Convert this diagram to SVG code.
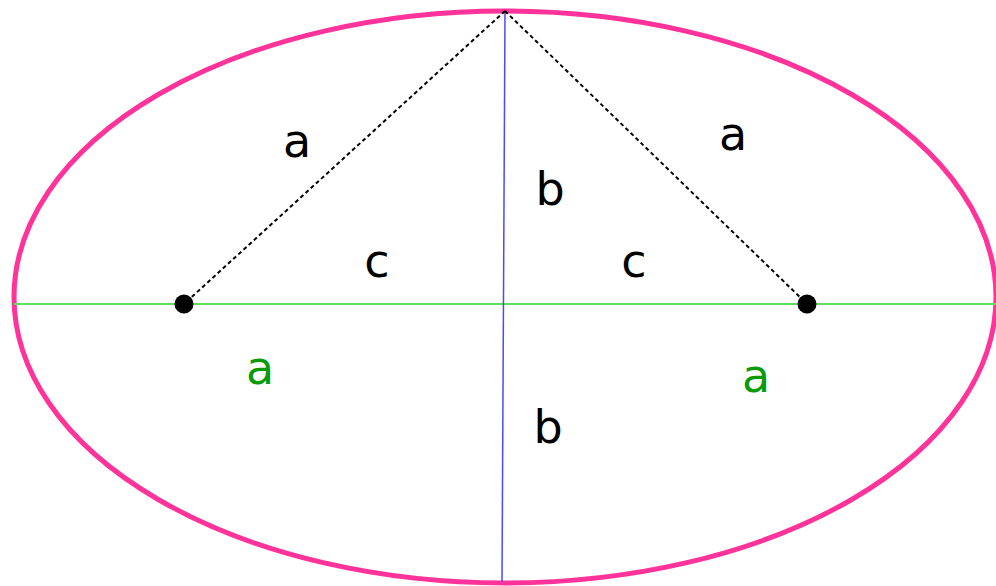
<svg xmlns="http://www.w3.org/2000/svg" width="996" height="586" viewBox="0 0 996 586">
<style>
.lbl{font-family:"DejaVu Sans","Liberation Sans",sans-serif;font-size:46px;text-anchor:middle;fill:#000}
.grn{fill:#0a9a0a}
.dash{stroke:#000;stroke-width:2;stroke-dasharray:4 3;fill:none}
</style>
<rect width="996" height="586" fill="#fff"/>
<g id="ellipse">
<ellipse cx="505" cy="297" rx="491" ry="286" fill="none" stroke="#ff3399" stroke-width="5"/>
</g>
<g id="connectors">
<line x1="14" y1="304" x2="996" y2="304" stroke="#5fdf5f" stroke-width="2"/>
<line x1="505" y1="11" x2="502" y2="582" stroke="#4a4aff" stroke-width="1.5"/>
<line class="dash" x1="505" y1="11" x2="184" y2="304"/>
<line class="dash" x1="505" y1="11" x2="807" y2="304"/>
</g>
<g id="focus-left"><circle cx="184" cy="304" r="9.5" fill="#000"/></g>
<g id="focus-right"><circle cx="807" cy="304" r="9.5" fill="#000"/></g>
<g id="labels">
<text class="lbl" x="297" y="157">a</text>
<text class="lbl" x="733" y="150">a</text>
<text class="lbl" x="550" y="205">b</text>
<text class="lbl" x="377" y="277">c</text>
<text class="lbl" x="634" y="277">c</text>
<text class="lbl grn" x="260" y="384">a</text>
<text class="lbl grn" x="756" y="392">a</text>
<text class="lbl" x="548" y="443">b</text>
</g>
</svg>
